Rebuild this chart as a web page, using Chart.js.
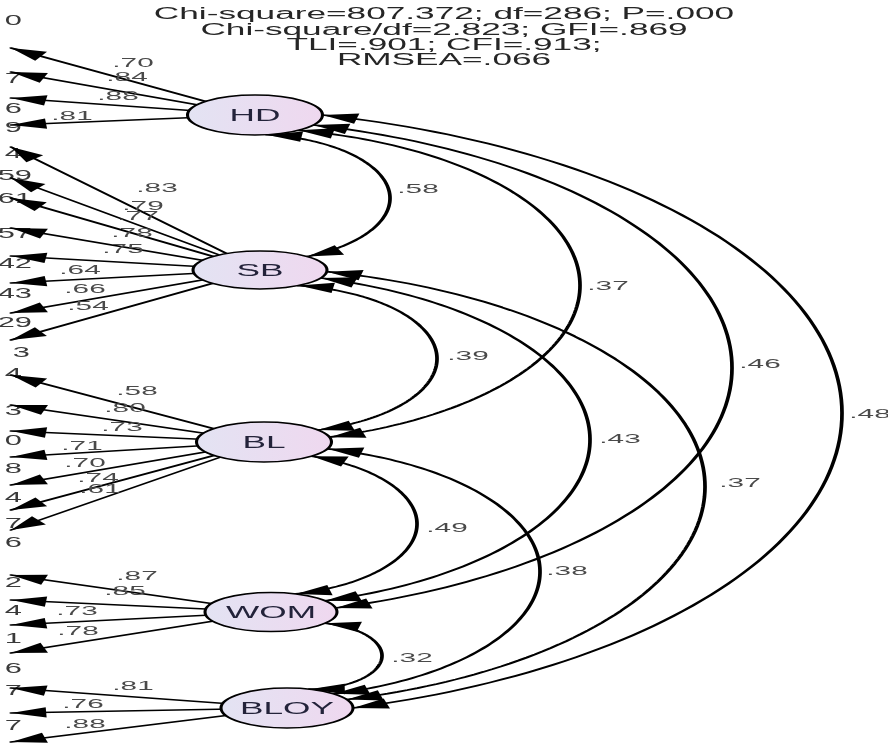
<!DOCTYPE html>
<html>
<head>
<meta charset="utf-8">
<script src="https://cdn.jsdelivr.net/npm/chart.js@4.4.1/dist/chart.umd.min.js"></script>
<style>
  html, body { margin: 0; padding: 0; background: #fff; }
  #wrap { width: 888px; height: 748px; }
</style>
</head>
<body>
<div id="wrap"><canvas id="sem"></canvas></div>
<script>
// fit statistics printed above the model
const fitLines = [
  "Chi-square=807.372; df=286; P=.000",
  "Chi-square/df=2.823; GFI=.869",
  "TLI=.901; CFI=.913;",
  "RMSEA=.066",
];

// latent constructs
const latentNames = ["HD", "SB", "BL", "WOM", "BLOY"];

// standardized loadings, one list per construct (top to bottom)
const loadHD = [0.70, 0.84, 0.88, 0.81];
const loadSB = [0.83, 0.79, 0.77, 0.78, 0.75, 0.64, 0.66, 0.54];
const loadBL = [0.58, 0.80, 0.73, 0.71, 0.70, 0.74, 0.61];
const loadWOM = [0.87, 0.85, 0.73, 0.78];
const loadBLOY = [0.81, 0.76, 0.88];

// correlations between constructs
const covFrom = ["HD", "SB", "BL", "WOM", "HD", "SB", "BL", "HD", "SB", "HD"];
const covTo = ["SB", "BL", "WOM", "BLOY", "BL", "WOM", "BLOY", "WOM", "BLOY", "BLOY"];
const covValues = [0.58, 0.39, 0.49, 0.32, 0.37, 0.43, 0.38, 0.46, 0.37, 0.48];

// squared multiple correlations: only the last digits survive the crop
const r2Tails = ["0", "7", "6", "9", "4", "59", "61", "57", "42", "43", "29", "3",
  "4", "3", "0", "8", "4", "7", "6", "2", "4", "1", "6", "7", "7"];

// ---- layout, in diagram units (same as page pixels) ----
const latentX = [255, 260, 264, 271, 287];
const latentY = [115, 270, 442, 612, 708];
const latentRX = [67.5, 67, 67.5, 66, 66];
const latentRY = [20, 19, 20, 19.5, 20];

const indicatorX = 11;
const indicatorY = [
  [48, 72, 98, 125],
  [147, 178, 198, 228, 256, 283, 313, 340],
  [375, 405, 431, 457, 485, 510, 530],
  [575, 600, 625, 653],
  [688, 713, 742],
];
const loadLabelX = [
  [133, 127, 118, 72],
  [157, 143, 138, 132, 123, 80, 85, 88],
  [137, 125, 122, 82, 85, 98, 100],
  [137, 125, 77, 78],
  [133, 83, 85],
];
const loadLabelY = [
  [62, 76, 95, 115],
  [187, 205, 215, 232, 248, 269, 288, 305],
  [390, 407, 426, 445, 462, 477, 488],
  [575, 590, 610, 630],
  [685, 703, 723],
];

// where each two-headed arrow meets its ellipses (degrees, 0 = right, + = down)
const covFromAngle = [80, 55, 45, 35, 50, 25, 20, 30, 5, 0];
const covToAngle = [-45, -37, -68, -70, -14, -35, -45, -12, -25, 0];
const covBulgeX = [390, 437, 417, 382, 580, 590, 540, 732, 705, 842];
const covLabelX = [418, 468, 447, 412, 608, 620, 567, 760, 740, 870];
const covLabelY = [188, 355, 527, 657, 285, 438, 570, 363, 482, 413];

const r2Y = [20, 78, 108, 127, 153, 175, 198, 233, 263, 293, 322, 352,
  373, 410, 440, 468, 497, 523, 542, 582, 610, 638, 668, 690, 725];
const r2RightX = [22, 22, 22, 22, 22, 32, 32, 32, 32, 32, 32, 30,
  22, 22, 22, 22, 22, 22, 22, 22, 22, 22, 22, 22, 22];

const titleX = 444;
const titleY = [19, 34.5, 50, 65];

// the original picture is stretched sideways, so everything is drawn that way
const SX = 2.2;
const ARROW_LEN = 16;
const ARROW_HALF = 5.2;
const FONT = '"Liberation Sans", Arial, sans-serif';

const loadings = [loadHD, loadSB, loadBL, loadWOM, loadBLOY];
const fmt = (v) => v.toFixed(2).replace(/^0/, "");

function strokeStretched(ctx, w) {
  ctx.save();
  ctx.scale(SX, 1);
  ctx.lineWidth = w;
  ctx.strokeStyle = "#000";
  ctx.lineJoin = "round";
  ctx.lineCap = "round";
  ctx.stroke();
  ctx.restore();
}

function stretchedText(ctx, str, x, y, align, font, color) {
  ctx.save();
  ctx.translate(x, y);
  ctx.scale(SX, 1);
  ctx.font = font;
  ctx.fillStyle = color;
  ctx.textAlign = align;
  ctx.textBaseline = "alphabetic";
  ctx.fillText(str, 0, 0);
  ctx.restore();
}

// tip in pixels, dir = unit vector in unstretched space
function arrowHead(ctx, tip, dir) {
  const qx = -dir.y * ARROW_HALF, qy = dir.x * ARROW_HALF;
  const bx = -dir.x * ARROW_LEN, by = -dir.y * ARROW_LEN;
  ctx.beginPath();
  ctx.moveTo(tip.x, tip.y);
  ctx.lineTo(tip.x + (bx + qx) * SX, tip.y + by + qy);
  ctx.lineTo(tip.x + (bx - qx) * SX, tip.y + by - qy);
  ctx.closePath();
  ctx.fillStyle = "#000";
  ctx.fill();
}

// circular arc (in unstretched space) from p1 to p2 reaching x = bulge
function arcThrough(p1, p2, bulge, ox0) {
  const a = { x: (p1.x - ox0) / SX, y: p1.y };
  const b = { x: (p2.x - ox0) / SX, y: p2.y };
  const target = (bulge - ox0) / SX;
  const cx = b.x - a.x, cy = b.y - a.y;
  const len = Math.hypot(cx, cy), h = len / 2;
  const nx = cy / len, ny = -cx / len;
  const mx = (a.x + b.x) / 2, my = (a.y + b.y) / 2;
  const f = (t) => mx - t * nx + Math.sqrt(h * h + t * t) - target;
  let lo = -5 * h, hi = 5 * h;
  for (let k = 0; k < 80; k++) {
    const mid = (lo + hi) / 2;
    if (f(mid) > 0) lo = mid; else hi = mid;
  }
  const t = (lo + hi) / 2;
  const ocx = mx - t * nx, ocy = my - t * ny, r = Math.hypot(h, t);
  const a1 = Math.atan2(a.y - ocy, a.x - ocx);
  let a2 = Math.atan2(b.y - ocy, b.x - ocx);
  if (a2 < a1) a2 += 2 * Math.PI;
  const pts = [];
  const n = 120;
  for (let i = 0; i <= n; i++) {
    const ang = a1 + (a2 - a1) * i / n;
    pts.push({ x: ox0 + (ocx + r * Math.cos(ang)) * SX, y: ocy + r * Math.sin(ang) });
  }
  return {
    pts,
    d1: { x: Math.sin(a1), y: -Math.cos(a1) },
    d2: { x: -Math.sin(a2), y: Math.cos(a2) },
  };
}

const semPlugin = {
  id: "semDiagram",
  afterDatasetsDraw(chart) {
    const ctx = chart.ctx;
    const xs = chart.scales.x, ys = chart.scales.y;
    const px = (v) => xs.getPixelForValue(v);
    const py = (v) => ys.getPixelForValue(v);
    const ox0 = px(0);

    const node = (i) => ({
      x: px(latentX[i]), y: py(latentY[i]),
      rx: px(latentX[i] + latentRX[i]) - px(latentX[i]),
      ry: Math.abs(py(latentY[i] + latentRY[i]) - py(latentY[i])),
    });
    const onEllipse = (i, deg) => {
      const nd = node(i), rad = deg * Math.PI / 180;
      return { x: nd.x + nd.rx * Math.cos(rad), y: nd.y + nd.ry * Math.sin(rad) };
    };

    ctx.save();

    // clipped R² values at the left edge
    r2Tails.forEach((s, k) => {
      stretchedText(ctx, s, px(r2RightX[k]), py(r2Y[k]) + 5, "right", "14px " + FONT, "#3a3a3a");
    });

    // loading paths: latent -> indicator
    const loadHeads = [];
    loadings.forEach((vals, i) => {
      const nd = node(i);
      vals.forEach((v, j) => {
        const tip = { x: px(indicatorX), y: py(indicatorY[i][j]) };
        ctx.beginPath();
        ctx.moveTo(nd.x, nd.y);
        ctx.lineTo(tip.x, tip.y);
        strokeStretched(ctx, 1.5);
        const ux = (tip.x - nd.x) / SX, uy = tip.y - nd.y, ul = Math.hypot(ux, uy);
        loadHeads.push({ tip, dir: { x: ux / ul, y: uy / ul } });
      });
    });

    // correlation arcs
    const covHeads = [];
    covValues.forEach((v, k) => {
      const i1 = latentNames.indexOf(covFrom[k]);
      const i2 = latentNames.indexOf(covTo[k]);
      const p1 = onEllipse(i1, covFromAngle[k]);
      const p2 = onEllipse(i2, covToAngle[k]);
      const arc = arcThrough(p1, p2, px(covBulgeX[k]), ox0);
      ctx.beginPath();
      arc.pts.forEach((p, m) => (m ? ctx.lineTo(p.x, p.y) : ctx.moveTo(p.x, p.y)));
      strokeStretched(ctx, 1.7);
      covHeads.push({ tip: p1, dir: arc.d1 });
      covHeads.push({ tip: p2, dir: arc.d2 });
    });

    // latent ellipses
    latentNames.forEach((name, i) => {
      const nd = node(i);
      const g = ctx.createLinearGradient(nd.x - nd.rx, 0, nd.x + nd.rx, 0);
      g.addColorStop(0, "#e3e3f3");
      g.addColorStop(1, "#efd8ef");
      ctx.beginPath();
      ctx.ellipse(nd.x, nd.y, nd.rx, nd.ry, 0, 0, Math.PI * 2);
      ctx.fillStyle = g;
      ctx.fill();
      strokeStretched(ctx, 1.4);
      stretchedText(ctx, name, nd.x, nd.y + 6, "center", "16px " + FONT, "#23233a");
    });

    loadHeads.forEach((h) => arrowHead(ctx, h.tip, h.dir));
    covHeads.forEach((h) => arrowHead(ctx, h.tip, h.dir));

    // loading values
    loadings.forEach((vals, i) => {
      vals.forEach((v, j) => {
        stretchedText(ctx, fmt(v), px(loadLabelX[i][j]), py(loadLabelY[i][j]) + 5,
          "center", "13.5px " + FONT, "#4a4a4a");
      });
    });

    // correlation values
    covValues.forEach((v, k) => {
      stretchedText(ctx, fmt(v), px(covLabelX[k]), py(covLabelY[k]) + 5,
        "center", "13.5px " + FONT, "#4a4a4a");
    });

    // fit statistics
    fitLines.forEach((s, k) => {
      stretchedText(ctx, s, px(titleX), py(titleY[k]), "center", "16px " + FONT, "#262626");
    });

    ctx.restore();
  },
};

new Chart(document.getElementById("sem"), {
  type: "scatter",
  data: {
    datasets: [{
      label: "constructs",
      data: latentNames.map((n, i) => ({ x: latentX[i], y: latentY[i] })),
      pointRadius: 0,
    }],
  },
  options: {
    responsive: true,
    maintainAspectRatio: false,
    animation: false,
    events: [],
    layout: { padding: 0 },
    plugins: {
      legend: { display: false },
      tooltip: { enabled: false },
    },
    scales: {
      x: { type: "linear", min: 0, max: 888, display: false },
      y: { type: "linear", min: 0, max: 748, reverse: true, display: false },
    },
  },
  plugins: [semPlugin],
});
</script>
</body>
</html>
